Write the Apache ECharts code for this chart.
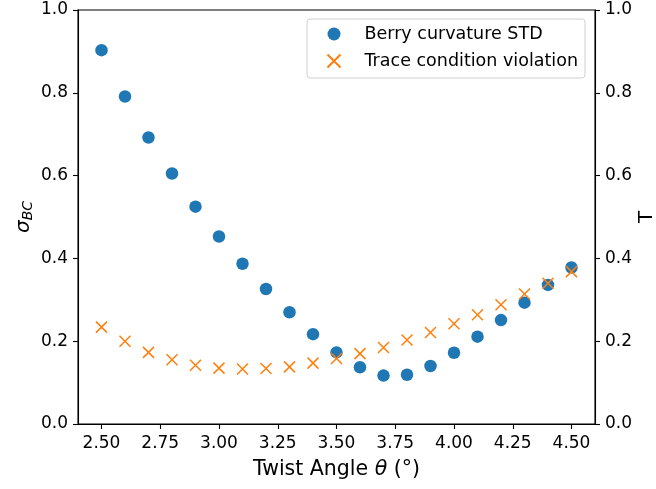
<!DOCTYPE html>
<html><head><meta charset="utf-8">
<script src="https://cdn.jsdelivr.net/npm/echarts@6/dist/echarts.min.js"></script>
<style>html,body{margin:0;padding:0;background:#fff}#c{width:656px;height:489px}</style>
</head><body><div id="c"></div>
<script>
const angles = [2.5,2.6,2.7,2.8,2.9,3.0,3.1,3.2,3.3,3.4,3.5,3.6,3.7,3.8,3.9,4.0,4.1,4.2,4.3,4.4,4.5];
const berrySTD = [0.903,0.791,0.692,0.605,0.525,0.453,0.387,0.326,0.270,0.217,0.173,0.137,0.117,0.119,0.140,0.172,0.211,0.251,0.293,0.336,0.378];
const traceViolation = [0.234,0.200,0.173,0.155,0.142,0.135,0.133,0.134,0.138,0.147,0.158,0.170,0.185,0.203,0.221,0.242,0.264,0.288,0.314,0.340,0.368];
const xTicks = [2.5,2.75,3.0,3.25,3.5,3.75,4.0,4.25,4.5];
const seriesNames = ['Berry curvature STD','Trace condition violation'];

const font = 'DejaVu Sans';
const axisLineStyle = {color:'#000', width:1.1};
const chart = echarts.init(document.getElementById('c'), null, {renderer:'canvas'});
const yAxisCommon = {
  type:'value', min:0, max:1, interval:0.2,
  axisLine:{show:true, lineStyle:axisLineStyle},
  axisTick:{show:true, inside:false, length:5, lineStyle:axisLineStyle},
  axisLabel:{fontFamily:font, fontSize:17, color:'#000', margin:10, formatter:v=>v.toFixed(1)},
  splitLine:{show:false},
  nameLocation:'middle', nameRotate:90, nameMoveOverlap:false
};
chart.setOption({
  animation:false,
  grid:{left:78, right:61, top:10, bottom:65, show:true, borderColor:'#000', borderWidth:1.1, backgroundColor:'transparent', outerBoundsMode:'none', containLabel:false},
  legend:{
    show:true, orient:'vertical', left:307, top:19,
    data:seriesNames,
    itemWidth:13, itemHeight:13, itemGap:9,
    padding:[6,7,8,18],
    borderColor:'#d0d0d0', borderWidth:1, borderRadius:3, backgroundColor:'rgba(255,255,255,0.8)',
    textStyle:{fontFamily:font, fontSize:17.5, lineHeight:17, color:'#000', padding:[0,0,0,19]}
  },
  xAxis:{
    type:'value', min:2.4, max:4.6,
    axisLine:{show:true, onZero:false, lineStyle:axisLineStyle},
    axisTick:{show:true, length:5, lineStyle:axisLineStyle, customValues:xTicks},
    axisLabel:{fontFamily:font, fontSize:17, color:'#000', margin:11, customValues:xTicks, formatter:v=>v.toFixed(2)},
    splitLine:{show:false},
    name:'{n|Twist Angle }{t|θ}{n| (°)}', nameLocation:'middle', nameGap:35, nameMoveOverlap:false,
    nameTextStyle:{rich:{n:{fontFamily:font, fontSize:20.5, color:'#000'}, t:{fontFamily:font, fontSize:20.5, fontStyle:'italic', color:'#000'}}}
  },
  yAxis:[
    Object.assign({}, yAxisCommon, {position:'left', name:'{s|σ}{b|BC}', nameGap:43,
      nameTextStyle:{rich:{s:{fontFamily:font, fontSize:20, fontStyle:'italic', color:'#000'}, b:{fontFamily:font, fontSize:14, fontStyle:'italic', color:'#000', verticalAlign:'bottom', padding:[9,0,0,0]}}}}),
    Object.assign({}, yAxisCommon, {position:'right', name:'T', nameGap:42,
      nameTextStyle:{fontFamily:font, fontSize:20, color:'#000'}})
  ],
  series:[
    {name:seriesNames[0], type:'scatter', yAxisIndex:0, symbol:'circle', symbolSize:12.5,
      itemStyle:{color:'#1f77b4', opacity:1}, data:angles.map((a,i)=>[a, berrySTD[i]]), z:2},
    {name:seriesNames[1], type:'scatter', yAxisIndex:1, symbol:'path://M0,0L10,10M10,0L0,10', symbolSize:11,
      itemStyle:{color:'none', borderColor:'#ff7f0e', borderWidth:1.5, opacity:1}, data:angles.map((a,i)=>[a, traceViolation[i]]), z:3}
  ]
});
</script></body></html>
